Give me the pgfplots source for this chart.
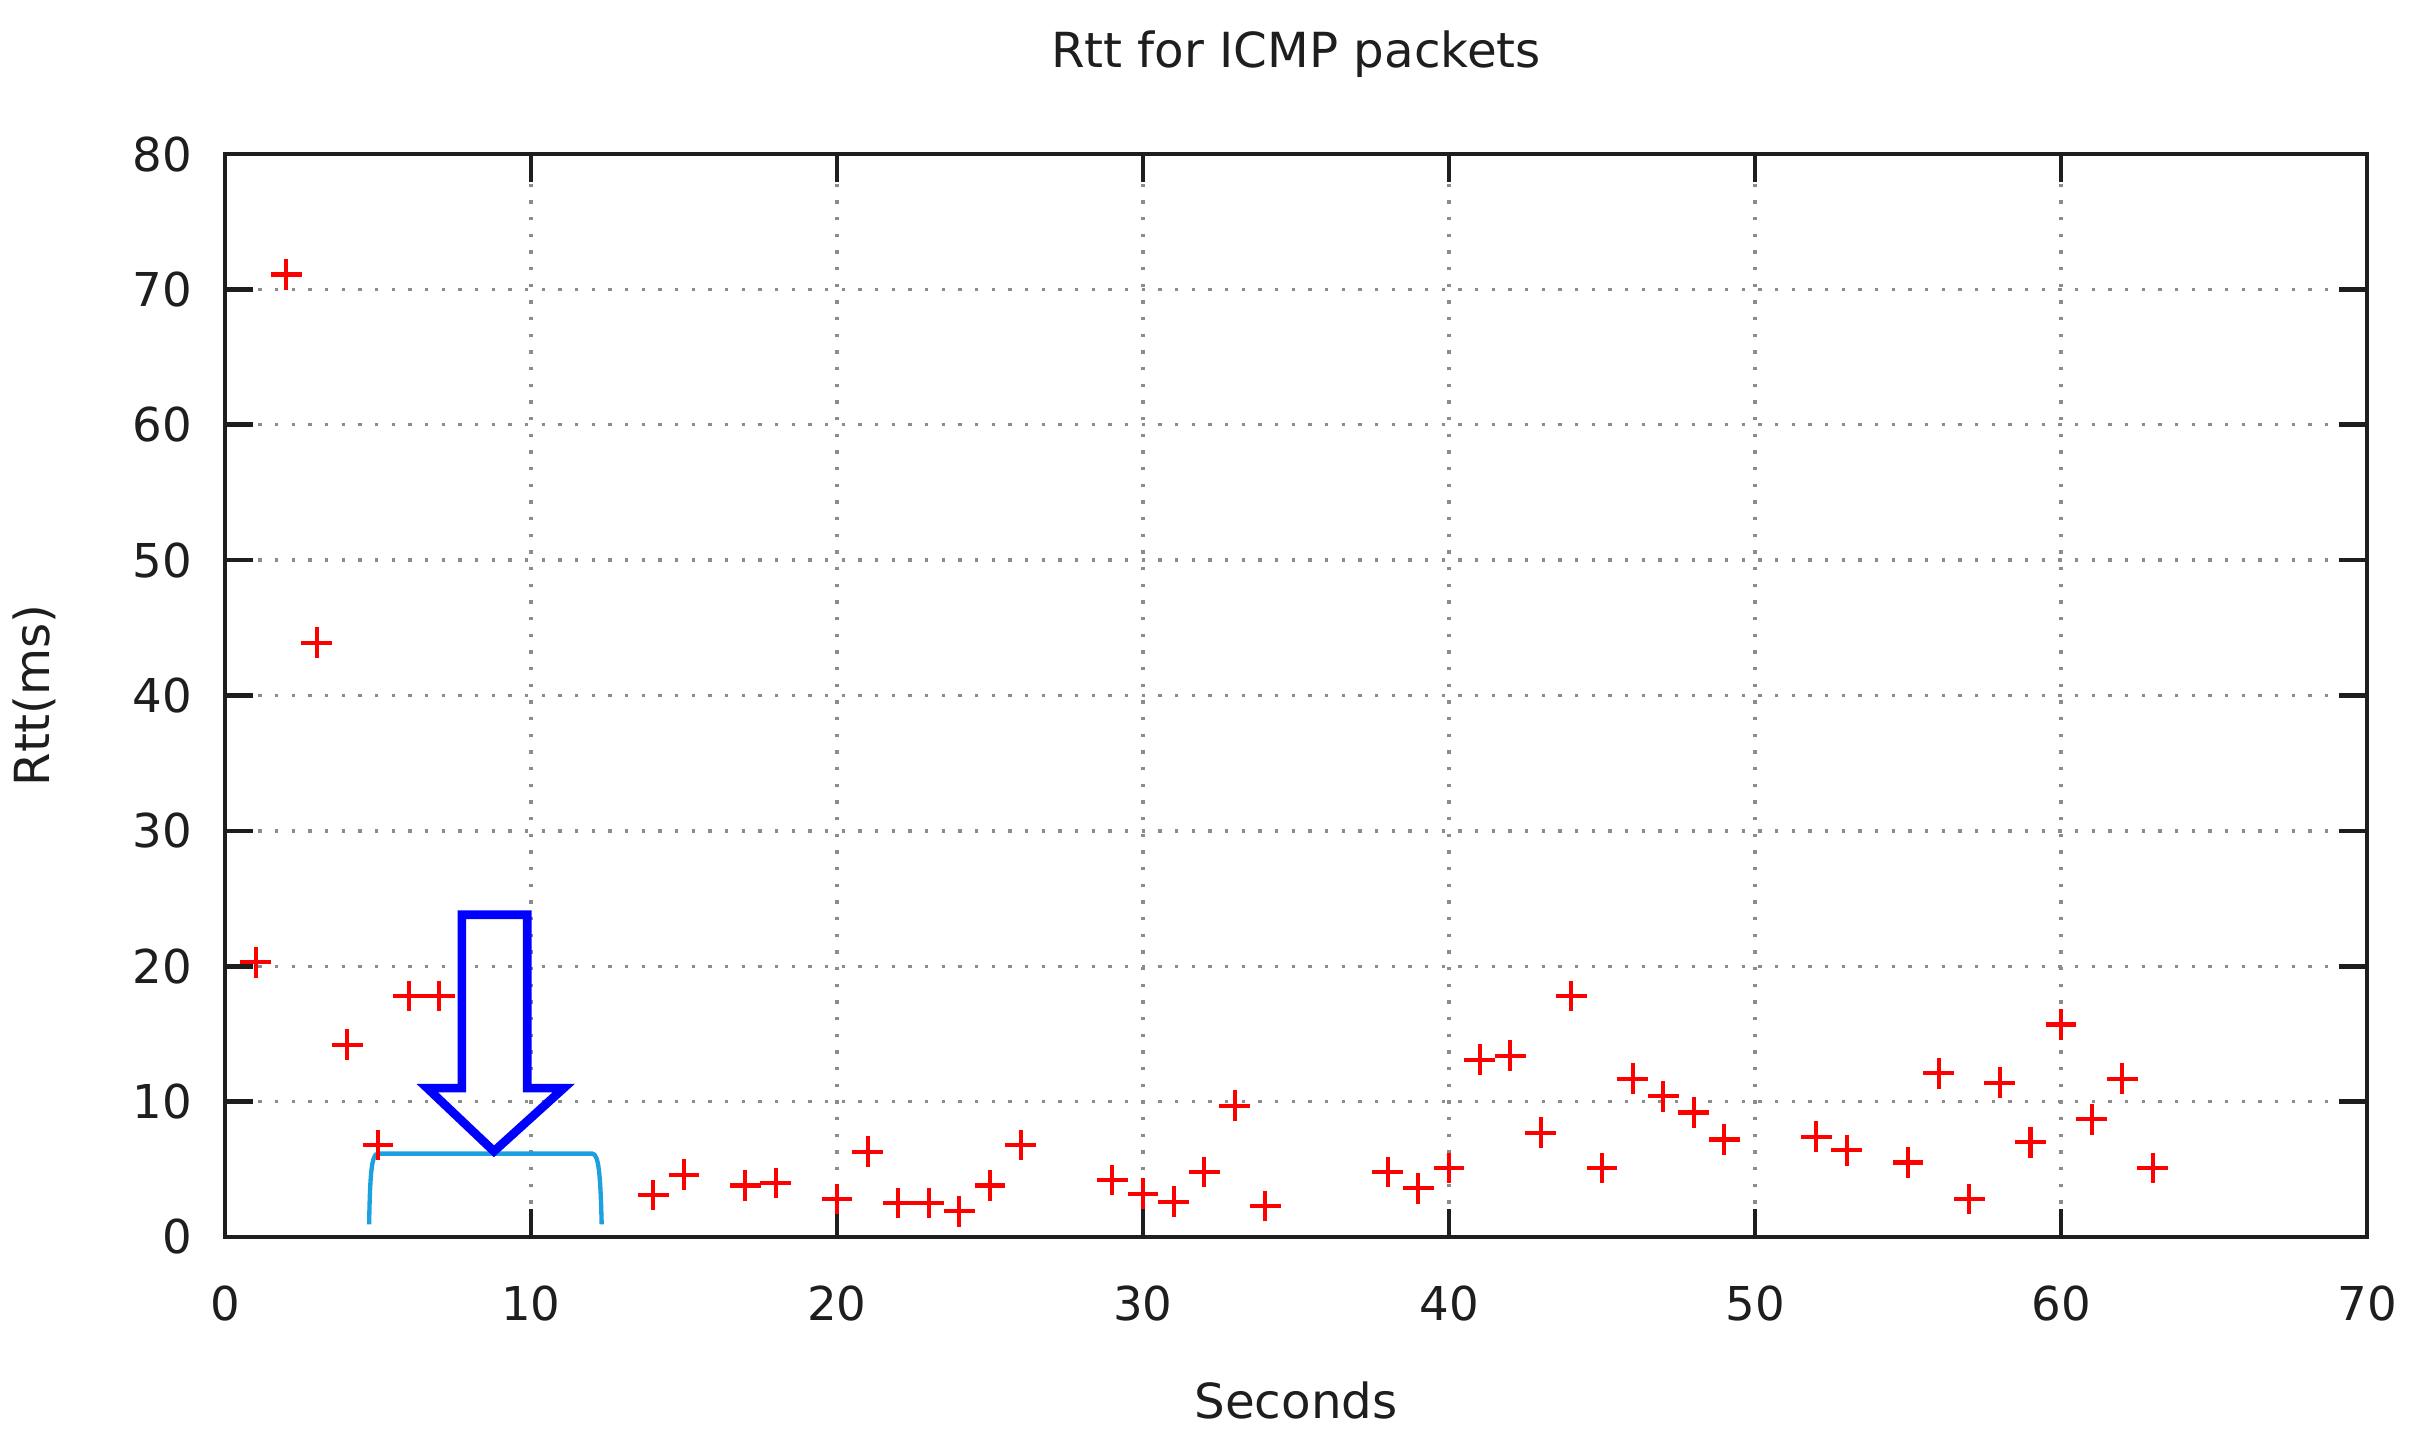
\documentclass[border=0pt]{standalone}
\usepackage{pgfplots}
\pgfplotsset{compat=1.18}
\usepackage{fontspec}
\setmainfont{DejaVu Sans}
\definecolor{axisgray}{RGB}{30,30,30}
\definecolor{gridgray}{RGB}{140,140,140}
\definecolor{bracketcyan}{RGB}{29,161,222}
\begin{document}
\begin{tikzpicture}
\path[use as bounding box] (-67.5pt,-62.4pt) rectangle (657.9pt,371.1pt);
\begin{axis}[
  scale only axis,
  width=642.6pt, height=324.9pt,
  xmin=0, xmax=70, ymin=0, ymax=80,
  xtick={0,10,...,70}, ytick={0,10,...,80},
  tick align=inside,
  major tick length=8.4pt,
  axis line style={axisgray, line width=1.4pt},
  every tick/.style={axisgray, line width=1.4pt},
  grid=major,
  major grid style={gridgray, line width=1pt, dash pattern=on 1pt off 4pt},
  /pgf/number format/assume math mode=true,
  tick label style={font=\fontsize{14}{16}\selectfont, text=axisgray},
  every tick label/.append style={inner sep=0pt},
  xticklabel shift=14.5pt,
  yticklabel shift=9.6pt,
  title={Rtt for ICMP packets},
  title style={at={(axis description cs:0.5,1.074)}, anchor=center, font=\fontsize{14.5}{16}\selectfont, text=axisgray},
  xlabel={Seconds},
  xlabel style={at={(axis description cs:0.5,-0.1505)}, anchor=center, font=\fontsize{14.5}{16}\selectfont, text=axisgray},
  ylabel={Rtt(ms)},
  ylabel style={at={(axis description cs:-0.0892,0.5)}, anchor=center, font=\fontsize{14.5}{16}\selectfont, text=axisgray},
  clip=false,
]
\addplot[only marks, mark=+, mark size=4.6pt, red, line width=1.25pt] coordinates {
(1,20.3) (2,71.1) (3,43.9) (4,14.2) (5,6.8) (6,17.8) (7,17.8)
(14,3.1) (15,4.6) (17,3.8) (18,4.0) (20,2.8) (21,6.3) (22,2.5) (23,2.5)
(24,1.9) (25,3.8) (26,6.8) (29,4.2) (30,3.2) (31,2.6) (32,4.8) (33,9.7)
(34,2.3) (38,4.8) (39,3.6) (40,5.1) (41,13.1) (42,13.4) (43,7.7) (44,17.8)
(45,5.1) (46,11.7) (47,10.4) (48,9.2) (49,7.2) (52,7.4) (53,6.4) (55,5.5)
(56,12.1) (57,2.8) (58,11.4) (59,7.0) (60,15.7) (61,8.7) (62,11.7) (63,5.1)
};
\draw[bracketcyan, line width=1.3pt] (axis cs:4.71,0.93) .. controls (axis cs:4.74,4.5) and (axis cs:4.78,6.16) .. (axis cs:5.0,6.16) -- (axis cs:12.0,6.16) .. controls (axis cs:12.22,6.16) and (axis cs:12.27,4.5) .. (axis cs:12.31,0.93);
\draw[blue, line width=2.6pt, line join=miter]
  (axis cs:7.74,23.8) -- (axis cs:9.88,23.8) -- (axis cs:9.88,11.0) -- (axis cs:11.07,11.0)
  -- (axis cs:8.79,6.33) -- (axis cs:6.61,11.0) -- (axis cs:7.74,11.0) -- cycle;
\end{axis}
\end{tikzpicture}
\end{document}
